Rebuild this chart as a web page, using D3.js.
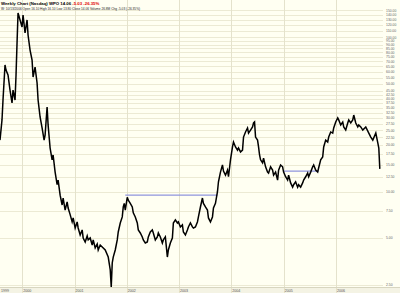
<!DOCTYPE html>
<html>
<head>
<meta charset="utf-8">
<script src="https://cdn.jsdelivr.net/npm/d3@7"></script>
<style>
  body { margin: 0; background: #fffff2; }
  svg { display: block; }
</style>
</head>
<body>
<svg id="chart" width="400" height="293"></svg>
<script>
// weekly closes, week number counted from the first bar
const firstWeek = new Date(1999, 6, 30);
const weeks = [
  0, 2, 3, 5, 6, 8, 10, 12, 13, 15, 16, 17, 18, 20, 22, 23, 25, 27, 28, 30, 32, 33, 35, 37, 38, 40,
  42, 44, 45, 47, 48, 50, 52, 53, 55, 57, 58, 60, 62, 63, 65, 67, 68, 70, 72, 73, 75, 77, 78, 80,
  82, 83, 85, 87, 88, 90, 92, 93, 95, 97, 98,
  100, 105, 108, 110, 111, 112, 113, 115, 117, 118, 120, 122, 123, 124, 125, 127, 128, 130, 132, 133,
  135, 137, 138, 140, 142, 143, 145, 147, 148, 150, 152, 153, 155, 157, 158, 160, 162, 163, 165, 167,
  168, 170, 172, 173, 175, 177, 178, 180, 182, 183, 185, 187, 188, 190, 192, 193, 195, 197, 198, 200,
  202, 203, 205, 207, 208, 210, 212, 213, 215, 217, 218, 220, 222, 223, 225, 227, 228,
  230, 232, 233, 235, 237, 238, 240, 242, 243, 245, 247, 248, 250, 252, 253, 254, 255, 257, 258, 259,
  260, 262, 263, 265, 267, 268, 270, 272, 273, 275, 277, 278, 280, 282, 283, 285, 287, 288, 290, 292,
  293, 295, 297, 298, 300, 302, 303, 305, 307, 308, 310, 312, 313, 315, 317, 318, 320, 322, 323, 325,
  327, 328, 330, 332, 333, 335, 337, 338, 340, 342, 343, 345, 347, 348, 350, 352, 353, 355, 357, 358,
  360, 362, 365, 368, 370, 372, 375, 377, 378, 379
];
const closes = [
  21.6, 29.2, 39.3, 66.3, 61.5, 57.1, 45.6, 37.6, 45.6, 39.3, 57.1, 92.0, 144.0, 129.8, 116.9, 139.8, 106.9, 129.8, 103.7, 82.9, 71.4, 55.4, 64.3, 50.7, 39.3, 30.5,
  25.9, 21.6, 23.3, 35.4, 27.1, 19.2, 16.1, 17.3, 13.4, 11.1, 11.9, 9.5, 8.2, 9.1, 7.6, 8.6, 7.84, 7.1, 6.37, 6.76, 5.82, 6.37, 5.82, 5.24,
  5.65, 5.01, 4.72, 5.17, 4.87, 5.01, 4.51, 4.87, 4.32, 4.58, 4.19,
  4.51, 4.19, 3.77, 3.11, 2.41, 3.45, 3.77, 4.19, 4.87, 5.48, 6.27, 6.86, 7.96, 8.4, 7.6, 9.2, 8.8, 8.4, 7.96, 7.3,
  6.86, 6.27, 5.65, 5.40, 5.09, 4.87, 4.65, 4.72, 5.09, 5.48, 5.65, 5.40, 4.87, 5.09, 5.40, 5.09, 4.65, 4.87, 5.09, 3.77,
  4.19, 4.65, 5.01, 6.27, 6.56, 6.27, 6.37, 5.91, 6.09, 5.48, 5.24, 5.65, 5.91, 6.27, 5.91, 5.82, 5.91, 6.37, 6.86, 7.96,
  9.1, 8.4, 7.96, 7.6, 6.76, 6.37, 6.86, 7.84, 8.4, 10.0, 11.6, 13.4, 14.9, 13.6, 12.8, 13.8, 12.5,
  16.1, 19.5, 21.0, 19.5, 18.6, 19.2, 18.1, 18.6, 22.6, 24.4, 25.9, 24.0, 25.1, 26.3, 27.9, 28.3, 22.6, 21.6, 19.5, 17.3,
  16.1, 15.4, 16.5, 14.5, 13.4, 13.2, 14.5, 13.8, 12.8, 13.4, 11.9, 13.8, 14.9, 14.5, 13.4, 12.5, 11.9, 12.8, 11.4, 10.7,
  11.1, 11.6, 10.7, 11.1, 10.7, 11.4, 11.9, 12.5, 13.2, 12.5, 13.4, 14.5, 14.9, 13.8, 13.4, 14.3, 16.1, 16.8, 19.5, 21.6,
  21.0, 22.6, 24.4, 24.0, 25.9, 28.3, 30.1, 29.2, 27.1, 28.3, 26.3, 25.1, 27.9, 29.2, 27.9, 29.2, 31.4, 27.9, 26.3, 27.1,
  26.3, 25.1, 26.3, 24.0, 22.6, 21.6, 24.0, 20.7, 19.2, 14.06
];

// horizontal support / resistance lines
const levelFrom = [125, 283];
const levelTo = [217, 318];
const levelPrice = [9.5, 13.6];

const priceTicks = [2.5, 5, 7.5, 10, 12.5, 15, 17.5, 20, 22.5, 25, 27.5, 30, 32.5, 35, 37.5, 40, 42.5, 45,
  50, 55, 60, 65, 70, 75, 80, 85, 90, 95, 100, 110, 120, 130, 140, 150];
const yearTicks = [firstWeek, new Date(2000, 0, 1), new Date(2001, 0, 1), new Date(2002, 0, 1),
  new Date(2003, 0, 1), new Date(2004, 0, 1), new Date(2005, 0, 1), new Date(2006, 0, 1)];

const svg = d3.select("#chart");
const plotRight = 383, plotBottom = 287;

const x = d3.scaleTime().domain([firstWeek, new Date(2006, 0, 1)]).range([0, 336]);
const y = d3.scaleLog().domain([2.4, 150]).range([287.3, 10.3]);
const weekDate = w => d3.timeWeek.offset(firstWeek, w);

// background
svg.append("rect").attr("width", 400).attr("height", 293).attr("fill", "#fffff2");
svg.append("rect").attr("y", plotBottom).attr("width", 400).attr("height", 6).attr("fill", "#f4f3e4");

// grid
svg.append("g").selectAll("line").data(priceTicks).join("line")
  .attr("x1", 0).attr("x2", plotRight)
  .attr("y1", d => Math.round(y(d)) + 0.5).attr("y2", d => Math.round(y(d)) + 0.5)
  .attr("stroke", "#ecead4").attr("stroke-width", 1);

svg.append("g").selectAll("line").data(yearTicks.slice(1)).join("line")
  .attr("x1", d => Math.round(x(d)) + 0.5).attr("x2", d => Math.round(x(d)) + 0.5)
  .attr("y1", 0).attr("y2", 293)
  .attr("stroke", "#e4e2cc").attr("stroke-width", 1);

svg.append("line").attr("x1", 0).attr("x2", 400).attr("y1", plotBottom + 0.5).attr("y2", plotBottom + 0.5)
  .attr("stroke", "#d8d6c0");

// right price labels
svg.append("g").selectAll("text").data(priceTicks).join("text")
  .attr("x", 386).attr("y", d => y(d) + 1.2)
  .attr("font-family", "Liberation Sans, Arial, sans-serif").attr("font-size", 3.4)
  .attr("fill", "#666").text(d => d3.format(".2f")(d));

// year labels
svg.append("g").selectAll("text").data(yearTicks).join("text")
  .attr("x", d => Math.max(1, x(d) + 1)).attr("y", 292)
  .attr("font-family", "Liberation Sans, Arial, sans-serif").attr("font-size", 3.6)
  .attr("fill", "#555").text(d => d3.timeFormat("%Y")(d));

// levels
svg.append("g").selectAll("line").data(levelPrice).join("line")
  .attr("x1", (d, i) => x(weekDate(levelFrom[i]))).attr("x2", (d, i) => x(weekDate(levelTo[i])))
  .attr("y1", d => y(d)).attr("y2", d => y(d))
  .attr("stroke", "#8f95dd").attr("stroke-width", 1.4);

// price
const line = d3.line()
  .x((d, i) => x(weekDate(weeks[i])))
  .y(d => y(d));
svg.append("path").datum(closes)
  .attr("d", line).attr("fill", "none")
  .attr("stroke", "#000").attr("stroke-width", 1.5).attr("stroke-linejoin", "miter");

// title
const title = svg.append("text").attr("x", 1).attr("y", 5)
  .attr("font-family", "Liberation Sans, Arial, sans-serif").attr("font-size", 4.3).attr("font-weight", "bold");
title.append("tspan").attr("fill", "#000").text("Weekly Chart (Nasdaq) WPO  14.06 ");
title.append("tspan").attr("fill", "#e00000").text(" -5.03  -26.35%");

svg.append("text").attr("x", 1).attr("y", 10)
  .attr("font-family", "Liberation Sans, Arial, sans-serif").attr("font-size", 3.2).attr("fill", "#222")
  .text("W: 10/13/2006 Open 16.10 High 16.10 Low 13.80 Close 14.06 Volume 26.8M Chg -5.03 (-26.35%)");
</script>
</body>
</html>
